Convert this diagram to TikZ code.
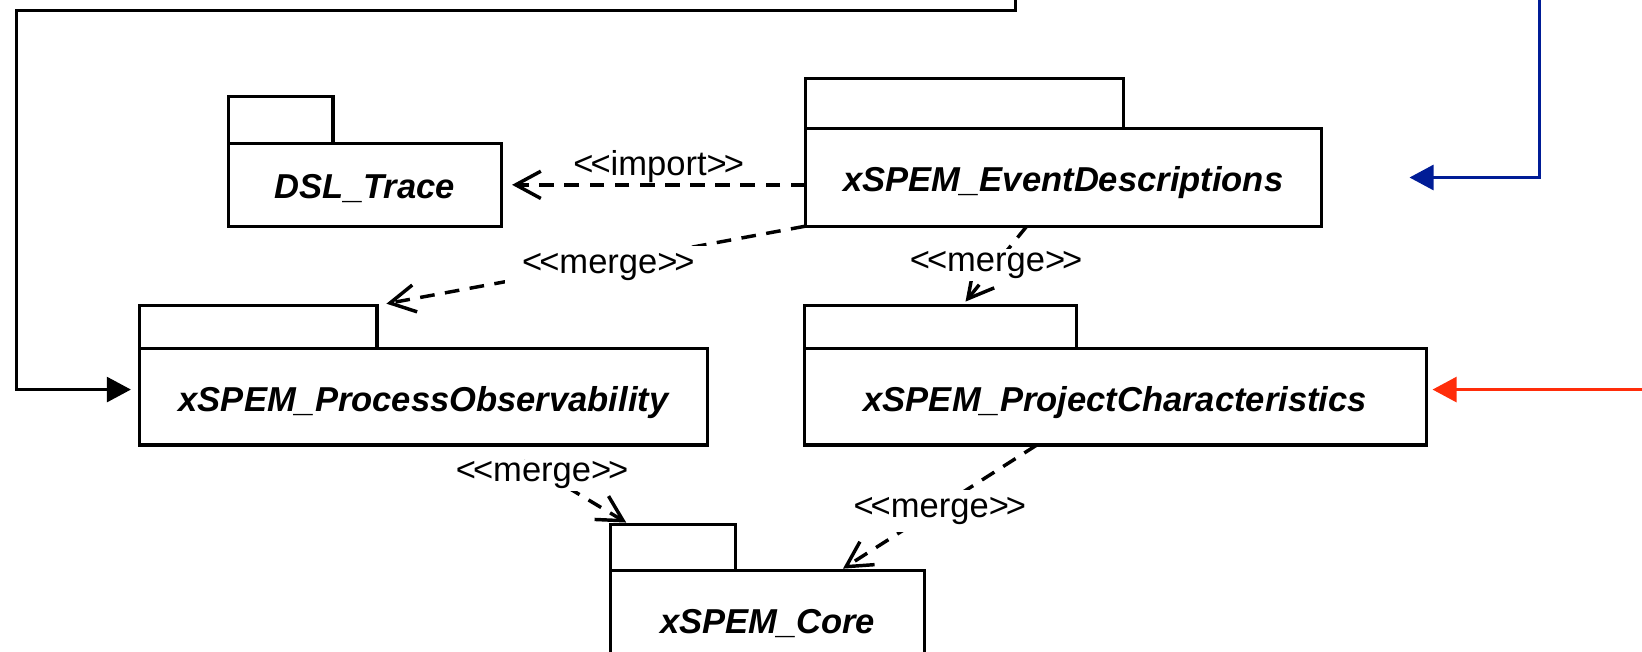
\documentclass[tikz,border=0pt]{standalone}
\usepackage{fontspec}
\usepackage{tikz}
\usetikzlibrary{arrows.meta,positioning}
\newfontfamily\pkgfont{Liberation Sans}
\newfontfamily\lblfont{Liberation Sans}
\definecolor{LINKBLUE}{RGB}{0,28,150}
\definecolor{LINKRED}{RGB}{255,45,10}
\newcommand{\stereo}[1]{<\kern-3pt<#1>\kern-3pt>}
\tikzset{
PKG/.style ={draw=black,line width=3pt,fill=white,inner sep=0pt,outer sep=0pt,minimum height=92pt,text height=27pt,text depth=0pt,font=\pkgfont\bfseries\itshape\fontsize{33}{36}\selectfont},
TAB/.style ={draw=black,line width=3pt,fill=white,inner sep=0pt,outer sep=0pt},
DEP/.style ={draw=black,line width=3.3pt,dash pattern=on 14pt off 10pt,-{Straight Barb[length=24pt,width=26pt]}},
STEREO/.style={fill=white,inner xsep=3pt,inner ysep=7pt,yshift=-4pt,font=\lblfont\fontsize{33}{36}\selectfont},
LINK/.style ={line width=2.5pt,line join=miter,-{Triangle[length=23pt,width=24pt]}},
}

\begin{document}
\begin{tikzpicture}[x=1pt,y=-1pt] % merge of the xSPEM packages
	\useasboundingbox (0,0) rectangle (1568,622);
	% packages
	\node[PKG,minimum width=261pt,minimum height=79pt] (DSL) at (348.5,176.5) {DSL\_Trace};
	\node[TAB,minimum width=100pt,minimum height=45pt,above right=0pt and 0pt of DSL.north west] (DSLtab) {};
	\node[PKG,minimum width=493pt,minimum height=93pt] (ED) at (1015.5,169.5) {xSPEM\_EventDescriptions};
	\node[TAB,minimum width=304pt,minimum height=48pt,above right=0pt and 0pt of ED.north west] (EDtab) {};
	\node[PKG,minimum width=543pt] (PO) at (404.5,379) {xSPEM\_ProcessObservability};
	\node[TAB,minimum width=227pt,minimum height=41pt,above right=0pt and 0pt of PO.north west] (POtab) {};
	\node[PKG,minimum width=594pt] (PC) at (1065,379) {xSPEM\_ProjectCharacteristics};
	\node[TAB,minimum width=260pt,minimum height=41pt,above right=0pt and 0pt of PC.north west] (PCtab) {};
	\node[PKG,minimum width=300pt] (CORE) at (733,591) {xSPEM\_Core};
	\node[TAB,minimum width=119pt,minimum height=44pt,above right=0pt and 0pt of CORE.north west] (COREtab) {};
	% dependencies
	\draw[DEP] (ED.west |- DSL.east) -- ([xshift=10pt]DSL.east) node[midway,above=-3pt,font=\lblfont\fontsize{33}{36}\selectfont] {\stereo{import}};
	\draw[DEP] (ED.south west) -- ([xshift=9pt,yshift=2pt]POtab.north east) node[pos=.47,STEREO,inner xsep=16pt] {\stereo{merge}};
	\draw[DEP] ([xshift=-35pt]ED.south) -- ([xshift=24pt,yshift=4pt]PCtab.north) node[pos=.5,STEREO,inner ysep=2pt,yshift=3pt] {\stereo{merge}};
	\draw[DEP,shorten <=30pt] ([xshift=70pt]PO.south) -- ([xshift=15pt,yshift=2pt]COREtab.north west) node[pos=.35,STEREO,inner ysep=2pt,yshift=1pt] {\stereo{merge}};
	\draw[DEP] ([xshift=-75pt]PC.south) -- ([xshift=72pt,yshift=2pt]CORE.north) node[pos=.5,STEREO] {\stereo{merge}};
	% links coming from outside
	\coordinate (topA) at (970,0);
	\coordinate (bendA) at (16,10);
	\draw[LINK] (topA) |- (bendA) |- ([xshift=-8pt,yshift=7pt]PO.west);
	\coordinate (topB) at (1470,0);
	\draw[LINK,LINKBLUE] (topB) |- ([xshift=84pt]ED.east);
	\coordinate (rightC) at (1568,372);
	\draw[LINK,LINKRED] (rightC) -- ([xshift=6pt,yshift=7pt]PC.east);
\end{tikzpicture}
\end{document}
